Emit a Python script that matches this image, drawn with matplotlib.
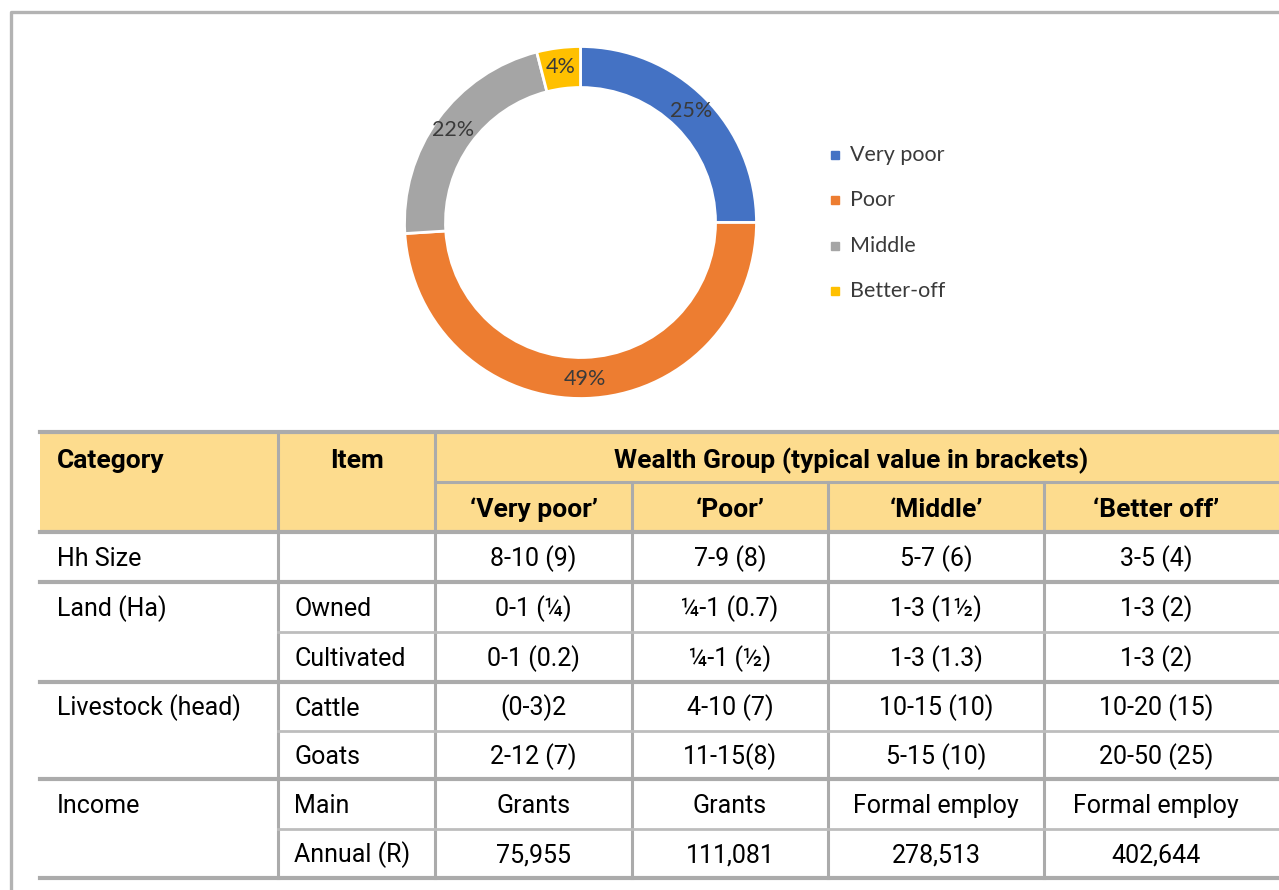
import matplotlib.pyplot as plt
from matplotlib.patches import Rectangle

# donut data
groups = ["Very poor", "Poor", "Middle", "Better-off"]
shares = [25, 49, 22, 4]
colors = ["#4472C4", "#ED7D31", "#A5A5A5", "#FFC000"]

# table data
col_heads = ["\u2018Very poor\u2019", "\u2018Poor\u2019", "\u2018Middle\u2019", "\u2018Better off\u2019"]
category = ["Hh Size", "Land (Ha)", "", "Livestock (head)", "", "Income", ""]
item = ["", "Owned", "Cultivated", "Cattle", "Goats", "Main", "Annual (R)"]
very_poor = ["8-10 (9)", "0-1 (\u00bc)", "0-1 (0.2)", "(0-3)2", "2-12 (7)", "Grants", "75,955"]
poor = ["7-9 (8)", "\u00bc-1 (0.7)", "\u00bc-1 (\u00bd)", "4-10 (7)", "11-15(8)", "Grants", "111,081"]
middle = ["5-7 (6)", "1-3 (1\u00bd)", "1-3 (1.3)", "10-15 (10)", "5-15 (10)", "Formal employ", "278,513"]
better_off = ["3-5 (4)", "1-3 (2)", "1-3 (2)", "10-20 (15)", "20-50 (25)", "Formal employ", "402,644"]

W, H = 1279, 890
fig = plt.figure(figsize=(W / 100, H / 100), dpi=100)

# pixel overlay axes
ax = fig.add_axes([0, 0, 1, 1])
ax.set_xlim(0, W)
ax.set_ylim(H, 0)
ax.axis("off")

# outer frame
ax.plot([11, 11, W + 5], [H + 5, 12, 12], color="#B3B3B3", lw=2.4, solid_capstyle="butt")

# donut
cx, cy, r = 580.5, 222.5, 176
box = 200
axp = fig.add_axes([(cx - box) / W, 1 - (cy + box) / H, 2 * box / W, 2 * box / H])
wedges, texts, autotexts = axp.pie(
    shares, colors=colors, startangle=90, counterclock=False, radius=1,
    autopct=lambda p: f"{p:.0f}%", pctdistance=157 / 176,
    wedgeprops=dict(width=41 / 176, edgecolor="white", linewidth=2),
    textprops=dict(color="#3A3A3A", fontsize=15.5, family=["Lato", "DejaVu Sans"]))
axp.set_xlim(-box / r, box / r)
axp.set_ylim(-box / r, box / r)
axp.set_aspect("equal")
axp.axis("off")

# legend
for i, (g, c) in enumerate(zip(groups, colors)):
    y = 155 + i * 45.3
    ax.plot(835, y, marker="s", ms=5.5, color=c, mec=c)
    ax.text(850, y, g, fontsize=15.5, color="#3A3A3A", va="center",
            family=["Lato", "DejaVu Sans"])

# table
xs = [40, 278, 435, 632, 828, 1044, 1268]
x_end = W + 5
head_top, head_mid, head_bot = 432, 482, 532
row_edges = [532, 582, 632, 682, 731, 779, 829, 878]
group_rows = [0, 1, 3, 5, 7]
line_c = "#ABABAB"
sub_c = "#BDBDBD"
fs = 18
fs_b = 19
font = ["Roboto", "DejaVu Sans"]
off = 9

ax.add_patch(Rectangle((xs[0], head_top), x_end - xs[0], head_bot - head_top,
                       facecolor="#FDDC8E", edgecolor="none", zorder=0))

# vertical lines
for k, x in enumerate(xs[1:-1], start=1):
    y0 = head_top if k <= 2 else head_mid
    ax.plot([x, x], [y0, row_edges[-1]], color=line_c, lw=2.2, zorder=2)
# header lines
ax.plot([xs[0], x_end], [head_top, head_top], color=line_c, lw=3, zorder=3)
ax.plot([xs[2], x_end], [head_mid, head_mid], color=line_c, lw=2.2, zorder=3)
# body lines
for i, y in enumerate(row_edges):
    if i in group_rows:
        ax.plot([xs[0], x_end], [y, y], color=line_c, lw=3, zorder=3)
    else:
        ax.plot([xs[1], x_end], [y, y], color=sub_c, lw=2, zorder=3)

# header text
hy = (head_top + head_mid) / 2 + off + 2
ax.text(xs[0] + 17, hy, "Category", fontsize=fs_b, weight="bold", family=font, va="baseline")
ax.text((xs[1] + xs[2]) / 2, hy, "Item", fontsize=fs_b, weight="bold", family=font,
        ha="center", va="baseline")
ax.text((xs[2] + xs[-1]) / 2, hy, "Wealth Group (typical value in brackets)", fontsize=fs_b,
        weight="bold", family=font, ha="center", va="baseline")
hy2 = (head_mid + head_bot) / 2 + off + 1
for j, h in enumerate(col_heads):
    ax.text((xs[j + 2] + xs[j + 3]) / 2, hy2, h, fontsize=fs_b, weight="bold", family=font,
            ha="center", va="baseline")

# body text
value_cols = [very_poor, poor, middle, better_off]
for i in range(len(category)):
    y = (row_edges[i] + row_edges[i + 1]) / 2 + off
    ax.text(xs[0] + 17, y, category[i], fontsize=fs, family=font, va="baseline")
    ax.text(xs[1] + 16, y, item[i], fontsize=fs, family=font, va="baseline")
    for j, col in enumerate(value_cols):
        ax.text((xs[j + 2] + xs[j + 3]) / 2, y, col[i], fontsize=fs, family=font,
                ha="center", va="baseline")

fig.savefig("out.png", dpi=100)
